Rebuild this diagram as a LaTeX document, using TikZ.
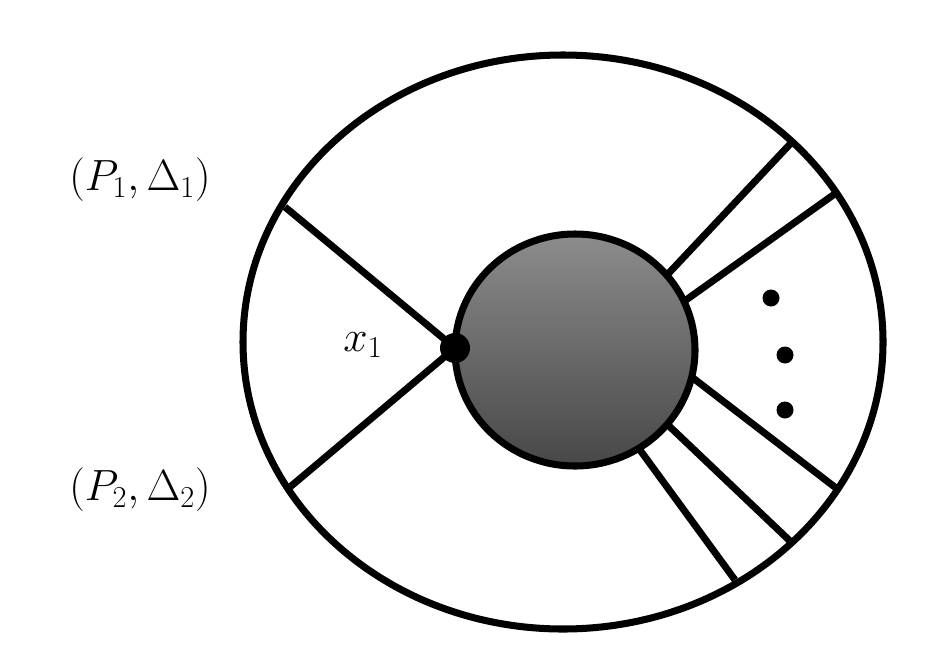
\documentclass[tikz,border=0pt]{standalone}
\begin{document}
\begin{tikzpicture}[x=0.02cm,y=-0.02cm,line width=4pt,
  lab/.style={font=\fontsize{26}{30}\selectfont}]
\useasboundingbox (0,0) rectangle (928,649);
\draw (563,342) ellipse [x radius=320, y radius=287];
\coordinate (a1) at (285,207); \coordinate (a2) at (290,487);
\coordinate (r1) at (792,142); \coordinate (r2) at (836,193);
\coordinate (r3) at (836,488); \coordinate (r4) at (790,541); \coordinate (r5) at (735,580);
\draw (a1) -- (455,348) -- (a2);
\draw (667,275) -- (r1); \draw (686,300) -- (r2);
\draw (693,378) -- (r3); \draw (668,425) -- (r4); \draw (640,450) -- (r5);
\draw[top color=black!45, bottom color=black!72] (575,350) ellipse [x radius=120, y radius=116];
\fill (455,348) circle (15);
\foreach \p in {(771,298),(785,355),(785,410)} \fill \p circle (8.5);
\node[lab] (l1) at (140,180) {$(P_1,\Delta_1)$};
\node[lab] (l2) at (140,490) {$(P_2,\Delta_2)$};
\node[lab] (x1) at (363,345) {$x_1$};
\end{tikzpicture}
\end{document}
